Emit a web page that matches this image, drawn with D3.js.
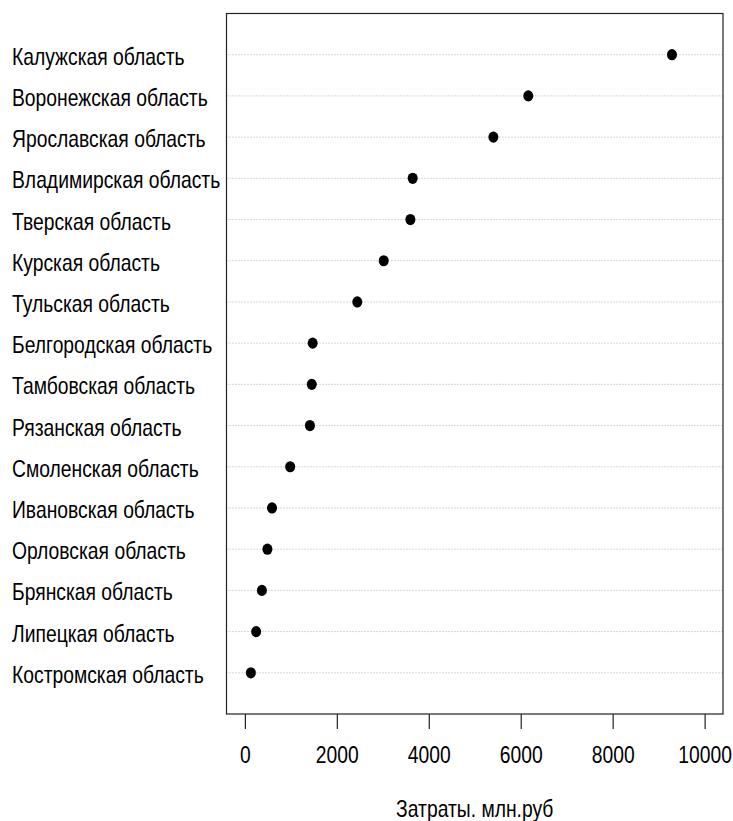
<!DOCTYPE html>
<html>
<head>
<meta charset="utf-8">
<script src="https://cdn.jsdelivr.net/npm/d3@7"></script>
<style>
  body { margin: 0; background: #fff; }
  text { font-family: "Liberation Sans", Arial, sans-serif; fill: #000; }
</style>
</head>
<body>
<div id="chart"></div>
<script>
// regions, top to bottom as in the picture
let regions = ["Калужская область", "Воронежская область", "Ярославская область",
    "Владимирская область", "Тверская область", "Курская область", "Тульская область",
    "Белгородская область", "Тамбовская область", "Рязанская область", "Смоленская область",
    "Ивановская область", "Орловская область", "Брянская область", "Липецкая область",
    "Костромская область"];
let costs = [9290, 6165, 5405, 3650, 3600, 3020, 2445, 1475, 1455, 1415, 985, 590, 490, 370, 245, 130];
let xTicks = [0, 2000, 4000, 6000, 8000, 10000];
let xTitle = "Затраты. млн.руб";

let width = 733, height = 821;
let box = {left: 226.5, right: 723, top: 13.5, bottom: 714};
let fontSize = "23px", squeeze = 0.84;   // the picture's text is tall and narrow

let svg = d3.select("#chart")
    .append("svg")
    .attr("width", width)
    .attr("height", height);

// x range padded 4% like R does
let x = d3.scaleLinear()
    .domain([-400, 10400])
    .range([box.left, box.right]);

// rows 1..n from the bottom, ylim 0..n+1
let n = regions.length;
let y = d3.scaleLinear()
    .domain([0, n + 1])
    .range([box.bottom, box.top]);

let rowY = function(i) { return y(n - i); };

// dotted guide lines
svg.selectAll("line.grid")
    .data(regions)
    .enter()
    .append("line")
    .attr("class", "grid")
    .attr("x1", box.left)
    .attr("x2", box.right)
    .attr("y1", function(d, i) { return rowY(i); })
    .attr("y2", function(d, i) { return rowY(i); })
    .attr("stroke", "#b0b0b0")
    .attr("stroke-width", 1)
    .attr("stroke-dasharray", "1,2");

// labels on the left
svg.selectAll("text.label")
    .data(regions)
    .enter()
    .append("text")
    .attr("class", "label")
    .attr("transform", function(d, i) {
        return "translate(12," + (rowY(i) + 10) + ") scale(" + squeeze + ",1)";
    })
    .style("font-size", fontSize)
    .text(function(d) { return d; });

// points
svg.selectAll("ellipse.dot")
    .data(costs)
    .enter()
    .append("ellipse")
    .attr("class", "dot")
    .attr("cx", function(d) { return x(d); })
    .attr("cy", function(d, i) { return rowY(i); })
    .attr("rx", 5)
    .attr("ry", 5.6)
    .attr("fill", "#000");

// frame
svg.append("rect")
    .attr("x", box.left)
    .attr("y", box.top)
    .attr("width", box.right - box.left)
    .attr("height", box.bottom - box.top)
    .attr("fill", "none")
    .attr("stroke", "#222")
    .attr("stroke-width", 1.2);

// x axis
let axis = svg.append("g")
    .attr("transform", "translate(0," + box.bottom + ")")
    .call(d3.axisBottom(x).tickValues(xTicks).tickSize(15).tickPadding(18).tickFormat(d3.format("d")));
axis.select(".domain").remove();
axis.selectAll(".tick line").attr("stroke", "#222").attr("stroke-width", 1.2);
axis.selectAll(".tick text")
    .attr("transform", "scale(" + squeeze + ",1)")
    .style("font-size", fontSize)
    .style("font-family", "Liberation Sans, Arial, sans-serif")
    .attr("fill", "#000");

svg.append("text")
    .attr("transform", "translate(" + (box.left + box.right) / 2 + ",817) scale(" + squeeze + ",1)")
    .attr("text-anchor", "middle")
    .style("font-size", fontSize)
    .text(xTitle);
</script>
</body>
</html>
